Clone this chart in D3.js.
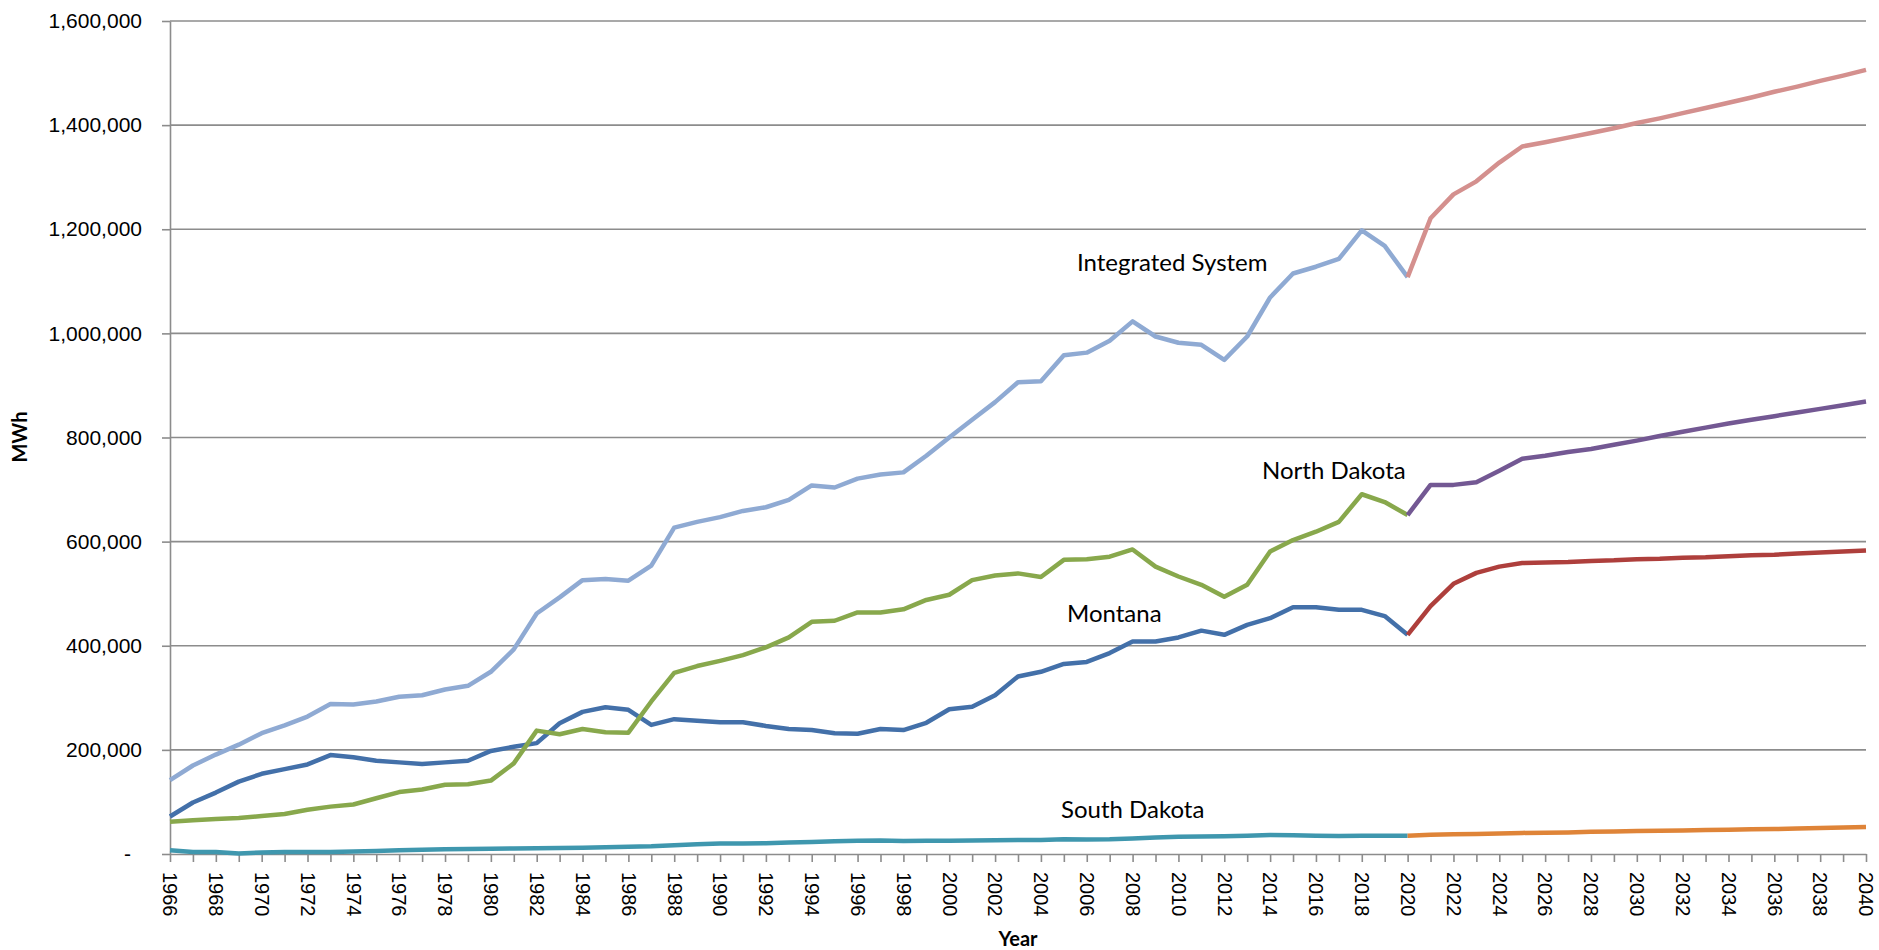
<!DOCTYPE html>
<html>
<head>
<meta charset="utf-8">
<script src="https://cdn.jsdelivr.net/npm/d3@7"></script>
<style>
  html, body { margin: 0; padding: 0; background: #fff; }
  svg { display: block; font-family: Lato, "Open Sans", sans-serif; }
</style>
</head>
<body>
<svg id="chart" width="1879" height="950"></svg>
<script>
// energy in thousands of MWh
var histYears = d3.range(1966, 2021);
var fcstYears = d3.range(2020, 2041);

var integrated = [142,170,191,210,232,247,264,288,287,293,
  302,305,316,323,350,393,462,493,526,528,
  525,554,627,638,647,659,666,680,708,704,
  721,729,733,765,800,834,868,906,908,958,
  963,986,1023,994,982,978,949,994,1069,1115,
  1128,1143,1198,1168,1108];
var montana = [72,99,118,139,154,163,172,190,186,179,
  176,173,176,179,198,206,213,251,273,282,
  277,248,259,256,253,253,246,240,238,232,
  231,240,238,252,278,283,305,341,350,365,
  369,386,408,408,416,429,421,440,453,474,
  474,469,469,457,421];
var northDakota = [62,65,67,69,73,77,85,91,95,107,
  119,124,133,134,141,174,237,230,240,234,
  233,293,348,361,371,382,397,416,446,448,
  464,464,470,488,498,526,535,539,532,565,
  566,571,585,552,533,517,494,517,581,603,
  619,638,691,676,651];
var southDakota = [7,4,4,1,3,4,4,4,5,6,
  7,8,9,9.5,10,10.5,11,11.5,12,13,
  14,15,17,18.5,20,20,20.5,22,23,24.5,
  25.5,26,25,25.5,25.5,26,26.5,27,27,28.5,
  28,28.5,30,31.5,33,33.5,34,35,36.5,36,
  35,34.5,35,35,35];

var integratedFcst = [1108,1221,1267,1292,1328,1359,1367,1376,1385,1394,1404,1413,1423,1433,1443,1453,1464,1474,1485,1495,1506];
var northDakotaFcst = [651,709,709,714,736,759,765,772,778,786,794,803,811,819,827,834,841,848,855,862,869];
var montanaFcst = [421,476,519,540,552,559,560,561,563,564,566,567,569,570,572,574,575,577,579,581,583];
var southDakotaFcst = [35,37,38,38.5,39.5,40.5,41,41.5,42.5,43,44,44.5,45,46,46.5,47.5,48,49,50,51,52];

var yTicks = [0,200,400,600,800,1000,1200,1400,1600];

var svg = d3.select("#chart");

var x = d3.scaleLinear().domain([1966, 2040]).range([170, 1866]);
var y = d3.scaleLinear().domain([0, 1600]).range([854, 21]);

// gridlines
svg.append("g").selectAll("line")
  .data(yTicks.filter(function(d){ return d > 0; }))
  .enter()
  .append("line")
    .attr("x1", 170).attr("x2", 1866)
    .attr("y1", function(d){ return y(d); })
    .attr("y2", function(d){ return y(d); })
    .style("stroke", "#8c8c8c")
    .style("stroke-width", 1.6);

// y axis
var yAxis = svg.append("g")
  .attr("transform", "translate(170,0)")
  .call(d3.axisLeft(y).tickValues(yTicks).tickSize(8).tickSizeOuter(0).tickPadding(20)
    .tickFormat(function(d){ return d === 0 ? "-" : d3.format(",")(d * 1000); }));
yAxis.selectAll("text")
  .style("font-size", "21px").style("fill", "#000")
  .attr("x", function(d){ return d === 0 ? -39 : -28; });

// x axis
var xAxis = svg.append("g")
  .attr("transform", "translate(0,854)")
  .call(d3.axisBottom(x).tickValues(d3.range(1966, 2041)).tickSize(8).tickSizeOuter(0)
    .tickFormat(function(d){ return d % 2 === 0 ? d : ""; }));
xAxis.selectAll("text")
  .style("font-size", "20px").style("fill", "#000")
  .style("text-anchor", "start")
  .attr("x", 18).attr("y", 0).attr("dy", "0.36em")
  .attr("transform", "rotate(90)");

svg.selectAll(".domain, .tick line")
  .style("stroke", "#8c8c8c")
  .style("stroke-width", 1.6);

// series
var line = d3.line()
  .x(function(d){ return x(d[0]); })
  .y(function(d){ return y(d[1]); });

var series = [
  { years: histYears, values: southDakota, color: "#3f97ae" },
  { years: fcstYears, values: southDakotaFcst, color: "#df8438" },
  { years: histYears, values: montana, color: "#4370a9" },
  { years: fcstYears, values: montanaFcst, color: "#ae3f3c" },
  { years: histYears, values: northDakota, color: "#88a84c" },
  { years: fcstYears, values: northDakotaFcst, color: "#735893" },
  { years: histYears, values: integrated, color: "#8faad3" },
  { years: fcstYears, values: integratedFcst, color: "#d4908e" }
];

svg.append("g").selectAll("path")
  .data(series)
  .enter()
  .append("path")
    .attr("d", function(s){ return line(d3.zip(s.years, s.values)); })
    .style("fill", "none")
    .style("stroke", function(s){ return s.color; })
    .style("stroke-width", 4.5)
    .style("stroke-linejoin", "round");

// series labels
var labels = [
  { text: "Integrated System", x: 1077, y: 271 },
  { text: "North Dakota", x: 1262, y: 479 },
  { text: "Montana", x: 1067, y: 622 },
  { text: "South Dakota", x: 1061, y: 818 }
];
svg.append("g").selectAll("text")
  .data(labels)
  .enter()
  .append("text")
    .attr("x", function(d){ return d.x; })
    .attr("y", function(d){ return d.y; })
    .style("font-size", "24px")
    .style("fill", "#000")
    .text(function(d){ return d.text; });

// axis titles
svg.append("text")
  .attr("x", 1018).attr("y", 946)
  .style("text-anchor", "middle")
  .style("font-size", "20px").style("font-weight", "bold")
  .text("Year");

svg.append("text")
  .attr("transform", "translate(27,437) rotate(-90)")
  .style("text-anchor", "middle")
  .style("font-size", "20px").style("font-weight", "bold")
  .text("MWh");
</script>
</body>
</html>
